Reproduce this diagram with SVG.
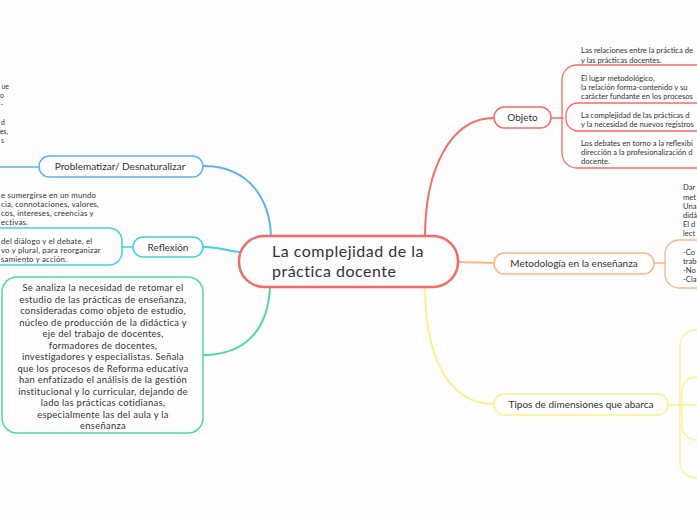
<svg xmlns="http://www.w3.org/2000/svg" width="697" height="520" viewBox="0 0 697 520">
<style>
text{font-family:Lato,"Noto Sans",sans-serif;fill:#333;}
.t{font-size:10px;text-anchor:middle;}
.s{font-size:7.6px;}
.f{font-size:7px;text-anchor:end;}
.l{font-size:7.8px;letter-spacing:0.2px;}
.m{font-size:9.4px;text-anchor:middle;letter-spacing:0.3px;}
.c{fill:none;stroke-width:2;stroke-linecap:round;}
.n{fill:#fdfdfd;stroke-width:1.5;}
.red{stroke:#f46b67;}
.ora{stroke:#ffb482;}
.yel{stroke:#fff08c;}
.blu{stroke:#5eb2f0;}
.tea{stroke:#3fd3dc;}
.gre{stroke:#4dd9a3;}
.b{fill:none;stroke-width:1.3;}
</style>
<rect width="697" height="520" fill="#fdfdfd"/>
<g id="connectors">
<path class="c red" d="M425,237 C425,170 450,118 494,118"/>
<path class="c ora" d="M458,262 C475,262 480,263 494,263"/>
<path class="c yel" d="M425,286 C425,360 450,404 494,404"/>
<path class="c blu" d="M203,166 C250,166 270,200 271,237"/>
<path class="c tea" d="M203,247 C222,247 230,252 241,252"/>
<path class="c gre" d="M203,355 C245,355 268,330 270,287"/>
<path class="c red" style="stroke-width:1.5" d="M551,118 L563,118"/>
<path class="c ora" style="stroke-width:1.5" d="M654,263 L665,263"/>
<path class="c yel" style="stroke-width:1.5" d="M668,405 L697,405"/>
<path class="c blu" style="stroke-width:1.5" d="M0,167 L39,167"/>
<path class="c tea" style="stroke-width:1.5" d="M122,247 L133,247"/>
</g>
<g id="central">
<rect x="239" y="236" width="219" height="51" rx="25" fill="#fdfdfd" stroke="#f46b67" stroke-width="2.5"/>
<text x="272" y="257" style="font-size:16px;letter-spacing:0.5px">La complejidad de la</text>
<text x="272" y="277" style="font-size:16px;letter-spacing:0.5px">práctica docente</text>
</g>
<g id="objeto">
<rect class="n red" x="494" y="107" width="57" height="21" rx="10.5"/>
<text class="t" x="522.5" y="121">Objeto</text>
</g>
<g id="objeto-hijos">
<rect class="b red" x="562" y="65" width="200" height="103" rx="15"/>
<rect class="b red" x="566" y="103" width="200" height="28" rx="12"/>
<text class="s" x="581" y="53">Las relaciones entre la práctica de</text>
<text class="s" x="581" y="62.5">y las prácticas docentes.</text>
<text class="s" x="581" y="80.5">El lugar metodológico,</text>
<text class="s" x="581" y="90">la relación forma-contenido y su</text>
<text class="s" x="581" y="99">carácter fundante en los procesos</text>
<text class="s" x="581" y="118">La complejidad de las prácticas d</text>
<text class="s" x="581" y="127">y la necesidad de nuevos registros</text>
<text class="s" x="581" y="146">Los debates en torno a la reflexibi</text>
<text class="s" x="581" y="155">dirección a la profesionalización d</text>
<text class="s" x="581" y="164">docente.</text>
</g>
<g id="metodologia">
<rect class="n ora" x="494" y="253" width="160" height="21" rx="10.5"/>
<text class="t" x="574" y="267">Metodología en la enseñanza</text>
</g>
<g id="metodologia-hijos">
<rect class="b ora" x="665" y="240" width="100" height="48" rx="14"/>
<text class="s" x="683" y="190">Dar</text>
<text class="s" x="683" y="199.5">met</text>
<text class="s" x="683" y="208.5">Una</text>
<text class="s" x="683" y="217.5">didá</text>
<text class="s" x="683" y="226.5">El d</text>
<text class="s" x="683" y="235.5">lect</text>
<text class="s" x="683" y="254.5">-Co</text>
<text class="s" x="683" y="263.5">trab</text>
<text class="s" x="683" y="272.5">-No</text>
<text class="s" x="683" y="281.5">-Cla</text>
</g>
<g id="tipos">
<rect class="n yel" x="494" y="394" width="174" height="21" rx="10.5"/>
<text class="t" x="581" y="408">Tipos de dimensiones que abarca</text>
</g>
<g id="tipos-hijos">
<rect class="b yel" x="680" y="330" width="100" height="148" rx="16"/>
<rect class="b yel" x="682" y="377" width="100" height="63" rx="14"/>
</g>
<g id="problematizar">
<rect class="n blu" x="39" y="156" width="164" height="21" rx="10.5"/>
<text class="t" x="120" y="170">Problematizar/ Desnaturalizar</text>
</g>
<g id="problematizar-hijos">
<text class="f" x="9" y="89">ue</text>
<text class="f" x="4" y="98">o</text>
<text class="f" x="3" y="107">-</text>
<text class="f" x="5" y="125">d</text>
<text class="f" x="8" y="134">es,</text>
<text class="f" x="4" y="143">s</text>
</g>
<g id="reflexion">
<rect class="n tea" x="133" y="237" width="70" height="20" rx="10"/>
<text class="t" x="168" y="250.5">Reflexión</text>
</g>
<g id="reflexion-hijos">
<text class="l" x="1" y="197.5">e sumergirse en un mundo</text>
<text class="l" x="1" y="206.5">cia, connotaciones, valores,</text>
<text class="l" x="1" y="215.5">cos, intereses, creencias y</text>
<text class="l" x="1" y="224.5">ectivas.</text>
<rect class="b tea" x="-100" y="228" width="222" height="37" rx="13" style="stroke-width:1.5"/>
<text class="l" x="1" y="243.5">del diálogo y el debate, el</text>
<text class="l" x="1" y="252.5">vo y plural, para reorganizar</text>
<text class="l" x="1" y="261.5">samiento y acción.</text>
</g>
<g id="analisis">
<rect class="n gre" x="2" y="277" width="201" height="156" rx="15"/>
<text class="m" x="103" y="291">Se analiza la necesidad de retomar el</text>
<text class="m" x="103" y="302.5">estudio de las prácticas de enseñanza,</text>
<text class="m" x="103" y="314">consideradas como objeto de estudio,</text>
<text class="m" x="103" y="325.5">núcleo de producción de la didáctica y</text>
<text class="m" x="103" y="337">eje del trabajo de docentes,</text>
<text class="m" x="103" y="348.5">formadores de docentes,</text>
<text class="m" x="103" y="360">investigadores y especialistas. Señala</text>
<text class="m" x="103" y="371.5">que los procesos de Reforma educativa</text>
<text class="m" x="103" y="383">han enfatizado el análisis de la gestión</text>
<text class="m" x="103" y="394.5">institucional y lo curricular, dejando de</text>
<text class="m" x="103" y="406">lado las prácticas cotidianas,</text>
<text class="m" x="103" y="417.5">especialmente las del aula y la</text>
<text class="m" x="103" y="429">enseñanza</text>
</g>
</svg>
